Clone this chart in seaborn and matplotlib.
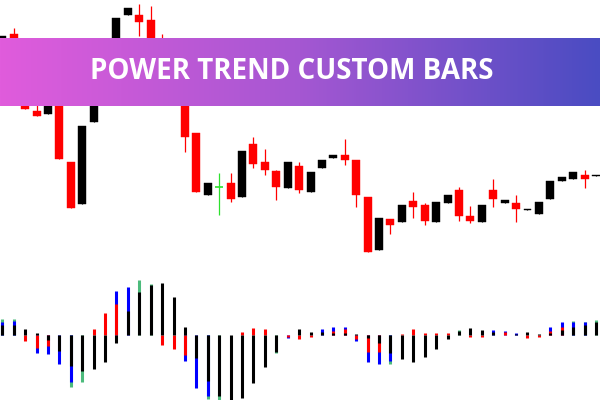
import numpy as np
import pandas as pd
import matplotlib
matplotlib.use("Agg")
import matplotlib.pyplot as plt
import seaborn as sns
from matplotlib.colors import LinearSegmentedColormap

# ---- price candles (arbitrary price units) ----
opens = [350, 366, 328, 289, 286.3, 302, 238.3, 195.7, 278.3, 320,
         352, 384.7, 385, 380, 340, 310, 300, 267.3, 204.7, 212.7,
         217.3, 203, 256, 238, 229, 212.3, 234, 208, 231.7, 241.7,
         244.7, 239.7, 203, 150.3, 181, 177.7, 199, 195.3, 177.7, 197,
         209.7, 184, 178.3, 209.7, 197, 197, 190.3, 186.3, 200.7, 219.3,
         221.3, 225, 224.5]
highs = [364, 372, 328, 300, 305, 302, 238.3, 274.3, 320, 350,
         382, 391.7, 396, 394, 366, 310, 300, 267.3, 216.7, 227.3,
         227.3, 249, 262.7, 251, 230, 237.7, 238.3, 228, 239.7, 245,
         261, 239.7, 203, 182, 181, 194.7, 208, 196.7, 198, 204.7,
         213, 194, 194.7, 221, 199.7, 205, 191.3, 198, 219, 223,
         228, 230.3, 225.5]
lows = [350, 330, 290.7, 284.3, 286.3, 241.3, 192.3, 195.7, 278.3, 320,
        352, 384.7, 364, 340, 310, 298, 247.7, 207.7, 204.7, 185.3,
        197.7, 203, 232.3, 224.7, 199.7, 212.3, 207.3, 208, 231.7, 241.7,
        234.7, 193, 148, 150.3, 166.3, 177.7, 182, 175.3, 177.7, 197,
        179.3, 177, 178.3, 193.3, 197, 177.7, 190.3, 186.3, 200.7, 219.3,
        221.3, 212.3, 224.5]
closes = [364, 330, 290.7, 284.3, 305, 241.3, 192.3, 274.3, 320, 350,
          382, 391.7, 378.3, 340, 310, 298, 263.3, 207.7, 216.7, 212.7,
          201.3, 249, 236.3, 229.7, 212.7, 237.7, 210.3, 228, 239.7, 245,
          239.7, 204.7, 148, 182, 175.3, 194.7, 193.3, 179.3, 198, 204.7,
          184.3, 179.3, 194.7, 201.3, 199.7, 191.3, 191.3, 198, 219, 223,
          228, 220.7, 225.5]

# ---- Power Trend indicator histogram components ----
ind_green = [15.7, 16, 0, 0, 0, 0, -51.7, -47.3, 0, 0,
             0, 0, 55, 51, 0, 0, 0, 0, -64, -66,
             0, 0, 0, 0, -17.7, 0, 0, 0, 0, 0,
             0, 0, 0, 0, -29, 0, 0, 0, 0, 0,
             5, 0, 0, 0, 0, 0, 0, 0, 0, 0,
             14, 13.3, 15]
ind_blue = [13.3, 14, 0, -17.7, -19, -29, -46.7, 0, 0, 0,
            44, 48, 0, 0, 0, 0, -25.7, -52.7, -61, 0,
            0, 0, 0, 0, 0, -2.7, 0, 0, 5.7, 7.7,
            8, -5.7, -26.7, -29, -26, 0, 0, 0, 0, 0,
            0, 0, 0, 5.3, 3.7, 2, 0, 0, 8, 13.3,
            13.3, 12.7, 0]
ind_red = [0, 0, -5.7, -12.7, -10.7, 0, 0, 0, 6, 22.3,
           31.3, 0, 0, 0, -10, -14, -20, 0, 0, 0,
           0, 3, 7, 5.7, 0, -1.5, -4.3, -1.7, 0, 4,
           5.7, -4, -17.3, -16.7, 0, 1, 6, 2, 2, 2,
           0, -1.7, -1.7, 0, 2.7, 0, -2.7, -1.7, 4, 7.7,
           0, 0, 0]
ind_black = [10, 10, 5.7, 2.3, -5, -16, -31, -36, -34, -27.3,
             -7.7, 24, 42.7, 49.7, 52.3, 38.3, 7.7, -22.7, -46, -61,
             -66, -62.7, -47.7, -31.7, -16.7, 0, 5.7, 3.3, 2.7, 1.7,
             1.7, 1, -3.3, -8.3, -18.3, -24, -26.7, -21.7, -14.3, -4,
             4, 7, 4.7, 3.3, 0, 1, 3, 1, 2, 5.3,
             7.7, 10, 12.7]

title = "POWER TREND CUSTOM BARS"

sns.set_theme(style="white")
plt.rcParams['font.family'] = ['Open Sans', 'DejaVu Sans']

fig = plt.figure(figsize=(6, 4), dpi=100)
fig.patch.set_facecolor("white")

df = pd.DataFrame(dict(o=opens, h=highs, l=lows, c=closes))
df["x"] = np.arange(len(df))
xlim = (-0.2, 52.35)

UP, DOWN, DOJI = "#000000", "#ff0000", "#2ee02e"
df["col"] = np.where(df.c > df.o, UP, np.where(df.c < df.o, DOWN, DOJI))

# price panel
ax = fig.add_axes([0, 0.345, 1, 0.655])
ax.set_xlim(xlim)
ax.set_ylim(138, 400)
ax.axis("off")
ax.vlines(df.x, df.l, df.h, colors=df.col, linewidth=0.9, zorder=1)
body = df[df.c != df.o]
ax.bar(body.x, body.c - body.o, bottom=body.o, width=0.7,
       color=body.col, edgecolor=body.col, linewidth=0.3, zorder=2)
doji = df[df.c == df.o]
ax.hlines(doji.c, doji.x - 0.35, doji.x + 0.35, colors=doji.col,
          linewidth=1.2, zorder=2)

# indicator panel
ax2 = fig.add_axes([0, 0, 1, 0.33])
ax2.set_xlim(xlim)
ax2.set_ylim(-65, 67)
ax2.axis("off")
xs = np.arange(len(ind_black))
for vals, c in [(ind_green, "#4cbb7c"), (ind_blue, "#0000ff"),
                (ind_red, "#ff0000"), (ind_black, "#000000")]:
    v = np.array(vals, dtype=float)
    m = v != 0
    ax2.vlines(xs[m], 0, v[m], colors=c, linewidth=2.2, zorder=2)

# banner
bax = fig.add_axes([0, 0.735, 1, 0.17])
cmap = LinearSegmentedColormap.from_list(
    "banner", ["#e05cdc", "#a557d2", "#4a4cc2"])
bax.imshow(np.linspace(0, 1, 256).reshape(1, -1), aspect="auto",
           cmap=cmap, extent=(0, 1, 0, 1))
bax.axis("off")
fig.text(0.4855, 0.802, title, ha="center", va="baseline",
         color="white", fontsize=20, fontweight="bold")

fig.savefig("out.png", dpi=100)
